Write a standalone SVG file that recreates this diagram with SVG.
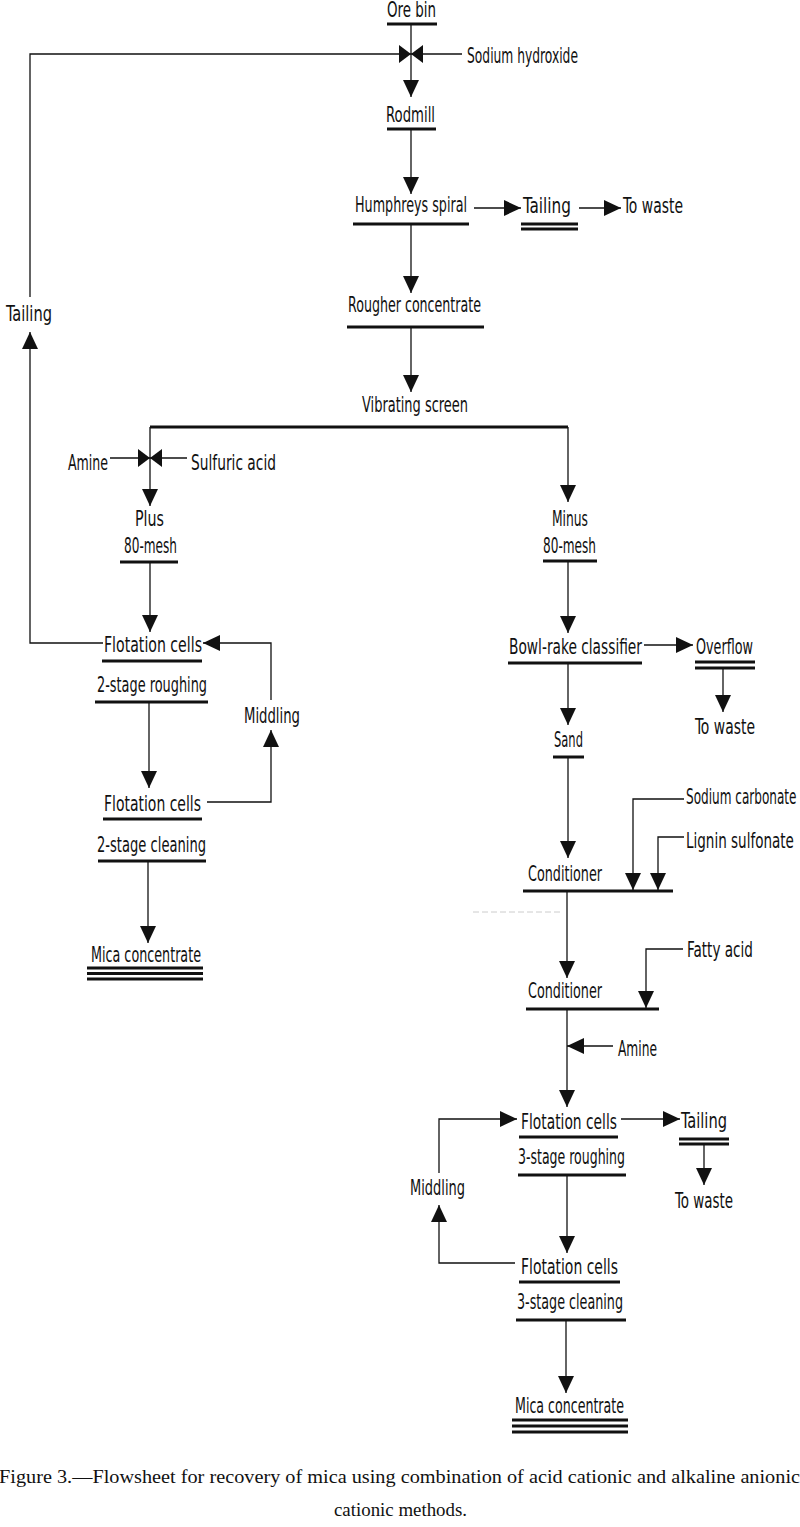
<svg xmlns="http://www.w3.org/2000/svg" width="800" height="1527" viewBox="0 0 800 1527">
<defs>
<style>
.t{font-family:"Liberation Sans Narrow","DejaVu Sans Condensed","Liberation Sans",sans-serif;font-size:21px;fill:#111}
.cap{font-family:"Liberation Serif","DejaVu Serif",serif;font-size:19px;fill:#111}
.u{stroke:#111;stroke-width:3;fill:none}
.c{stroke:#111;stroke-width:1.3;fill:none}
.ca{stroke:#111;stroke-width:1.3;fill:none;marker-end:url(#arr)}
.cb{stroke:#111;stroke-width:1.3;fill:none;marker-end:url(#bow)}
</style>
<marker id="arr" viewBox="0 0 17 16" refX="17" refY="8" markerWidth="17" markerHeight="16" markerUnits="userSpaceOnUse" orient="auto">
<path d="M0,0 L17,8 L0,16 Z" fill="#111"/>
</marker>
<marker id="bow" viewBox="0 0 12 18" refX="12" refY="9" markerWidth="12" markerHeight="18" markerUnits="userSpaceOnUse" orient="auto">
<path d="M0,0 L12,9 L0,18 Z" fill="#111"/>
</marker>
</defs>
<rect width="800" height="1527" fill="#fff"/>

<g id="connectors">
<path class="ca" d="M411,24 L411,97"/>
<path class="cb" d="M30,297 L30,54 L411,54"/>
<path class="cb" d="M462,54 L411,54"/>
<path class="ca" d="M411,129 L411,194"/>
<path class="ca" d="M474,208 L521,208"/>
<path class="ca" d="M579,208 L621,208"/>
<path class="ca" d="M411,224 L411,293"/>
<path class="ca" d="M411,327 L411,392"/>
<path class="u" d="M150,427 L568,427"/>
<path class="ca" d="M150,427 L150,506"/>
<path class="ca" d="M568,427 L568,502"/>
<path class="cb" d="M110,458 L150,458"/>
<path class="cb" d="M187,458 L150,458"/>
<path class="ca" d="M150,562 L150,632"/>
<path class="ca" d="M103,643 L30,643 L30,332"/>
<path class="ca" d="M207,802 L271,802 L271,730"/>
<path class="ca" d="M271,700 L271,643 L203,643"/>
<path class="ca" d="M149,702 L149,788"/>
<path class="ca" d="M148,861 L148,943"/>
<path class="ca" d="M568,561 L568,633"/>
<path class="ca" d="M644,645 L693,645"/>
<path class="ca" d="M723,668 L723,712"/>
<path class="ca" d="M568,663 L568,725"/>
<path class="ca" d="M568,757 L568,858"/>
<path class="ca" d="M684,799 L633,799 L633,890"/>
<path class="ca" d="M684,837 L658,837 L658,890"/>
<path class="ca" d="M567,891 L567,978"/>
<path class="ca" d="M683,949 L646,949 L646,1008"/>
<path class="ca" d="M567,1009 L567,1107"/>
<path class="ca" d="M613,1046 L567,1046"/>
<path class="ca" d="M621,1119 L680,1119"/>
<path class="ca" d="M704,1144 L704,1185"/>
<path class="ca" d="M567,1175 L567,1253"/>
<path class="ca" d="M515,1263 L439,1263 L439,1205"/>
<path class="ca" d="M439,1173 L439,1119 L517,1119"/>
<path class="ca" d="M566,1320 L566,1393"/>
<path d="M473,912 L562,912" stroke="#ccc" stroke-width="1" stroke-dasharray="6,3" fill="none"/>
</g>

<g id="ore-bin"><text class="t" x="387" y="17" textLength="49" lengthAdjust="spacingAndGlyphs">Ore bin</text><path class="u" d="M387,24 L437,24"/></g>
<g id="sodium-hydroxide"><text class="t" x="467" y="63" textLength="111" lengthAdjust="spacingAndGlyphs">Sodium hydroxide</text></g>
<g id="rodmill"><text class="t" x="386" y="122" textLength="49" lengthAdjust="spacingAndGlyphs">Rodmill</text><path class="u" d="M387,129 L436,129"/></g>
<g id="humphreys-spiral"><text class="t" x="355" y="212" textLength="112" lengthAdjust="spacingAndGlyphs">Humphreys spiral</text><path class="u" d="M353,224 L469,224"/></g>
<g id="tailing-1"><text class="t" x="523" y="213" textLength="48" lengthAdjust="spacingAndGlyphs">Tailing</text><path class="u" d="M521,224 L578,224 M521,229 L578,229" stroke-width="2"/></g>
<g id="to-waste-1"><text class="t" x="623" y="213" textLength="60" lengthAdjust="spacingAndGlyphs">To waste</text></g>
<g id="rougher-concentrate"><text class="t" x="348" y="312" textLength="133" lengthAdjust="spacingAndGlyphs">Rougher concentrate</text><path class="u" d="M347,327 L484,327"/></g>
<g id="vibrating-screen"><text class="t" x="362" y="412" textLength="106" lengthAdjust="spacingAndGlyphs">Vibrating screen</text></g>
<g id="tailing-left"><text class="t" x="6" y="321" textLength="46" lengthAdjust="spacingAndGlyphs">Tailing</text></g>
<g id="amine-1"><text class="t" x="68" y="470" textLength="40" lengthAdjust="spacingAndGlyphs">Amine</text></g>
<g id="sulfuric-acid"><text class="t" x="191" y="470" textLength="85" lengthAdjust="spacingAndGlyphs">Sulfuric acid</text></g>
<g id="plus-80-mesh"><text class="t" x="135" y="526" textLength="29" lengthAdjust="spacingAndGlyphs">Plus</text><text class="t" x="124" y="553" textLength="53" lengthAdjust="spacingAndGlyphs">80-mesh</text><path class="u" d="M120,562 L178,562"/></g>
<g id="minus-80-mesh"><text class="t" x="552" y="526" textLength="36" lengthAdjust="spacingAndGlyphs">Minus</text><text class="t" x="543" y="553" textLength="53" lengthAdjust="spacingAndGlyphs">80-mesh</text><path class="u" d="M543,561 L597,561"/></g>
<g id="flotation-roughing-2"><text class="t" x="104" y="652" textLength="98" lengthAdjust="spacingAndGlyphs">Flotation cells</text><path class="u" d="M102,661 L202,661"/><text class="t" x="97" y="692" textLength="110" lengthAdjust="spacingAndGlyphs">2-stage roughing</text><path class="u" d="M95,702 L208,702"/></g>
<g id="middling-1"><text class="t" x="244" y="723" textLength="56" lengthAdjust="spacingAndGlyphs">Middling</text></g>
<g id="flotation-cleaning-2"><text class="t" x="104" y="811" textLength="97" lengthAdjust="spacingAndGlyphs">Flotation cells</text><path class="u" d="M103,819 L202,819"/><text class="t" x="97" y="852" textLength="109" lengthAdjust="spacingAndGlyphs">2-stage cleaning</text><path class="u" d="M98,861 L206,861"/></g>
<g id="mica-concentrate-1"><text class="t" x="91" y="962" textLength="110" lengthAdjust="spacingAndGlyphs">Mica concentrate</text><path class="u" d="M87,968 L203,968 M87,973.5 L203,973.5 M87,979 L203,979" stroke-width="2.2"/></g>
<g id="bowl-rake-classifier"><text class="t" x="509" y="654" textLength="133" lengthAdjust="spacingAndGlyphs">Bowl-rake classifier</text><path class="u" d="M508,663 L642,663"/></g>
<g id="overflow"><text class="t" x="696" y="654" textLength="57" lengthAdjust="spacingAndGlyphs">Overflow</text><path class="u" d="M695,662 L755,662 M695,668 L755,668" stroke-width="2.2"/></g>
<g id="to-waste-2"><text class="t" x="695" y="734" textLength="60" lengthAdjust="spacingAndGlyphs">To waste</text></g>
<g id="sand"><text class="t" x="554" y="747" textLength="29" lengthAdjust="spacingAndGlyphs">Sand</text><path class="u" d="M553,757 L584,757"/></g>
<g id="conditioner-1"><text class="t" x="528" y="881" textLength="74" lengthAdjust="spacingAndGlyphs">Conditioner</text><path class="u" d="M523,891 L673,891"/></g>
<g id="sodium-carbonate"><text class="t" transform="translate(686,804) scale(0.65,1)" x="0" y="0" textLength="170" lengthAdjust="spacingAndGlyphs">Sodium carbonate</text></g>
<g id="lignin-sulfonate"><text class="t" transform="translate(686,848) scale(0.65,1)" x="0" y="0" textLength="166" lengthAdjust="spacingAndGlyphs">Lignin sulfonate</text></g>
<g id="fatty-acid"><text class="t" x="687" y="957" textLength="66" lengthAdjust="spacingAndGlyphs">Fatty acid</text></g>
<g id="conditioner-2"><text class="t" x="528" y="998" textLength="74" lengthAdjust="spacingAndGlyphs">Conditioner</text><path class="u" d="M526,1009 L659,1009"/></g>
<g id="amine-2"><text class="t" x="618" y="1056" textLength="39" lengthAdjust="spacingAndGlyphs">Amine</text></g>
<g id="flotation-roughing-3"><text class="t" x="521" y="1129" textLength="96" lengthAdjust="spacingAndGlyphs">Flotation cells</text><path class="u" d="M519,1137 L618,1137"/><text class="t" x="518" y="1164" textLength="107" lengthAdjust="spacingAndGlyphs">3-stage roughing</text><path class="u" d="M518,1175 L626,1175"/></g>
<g id="tailing-2"><text class="t" x="681" y="1128" textLength="46" lengthAdjust="spacingAndGlyphs">Tailing</text><path class="u" d="M679,1139 L729,1139 M679,1144 L729,1144" stroke-width="2"/></g>
<g id="to-waste-3"><text class="t" x="675" y="1208" textLength="58" lengthAdjust="spacingAndGlyphs">To waste</text></g>
<g id="middling-2"><text class="t" x="410" y="1195" textLength="55" lengthAdjust="spacingAndGlyphs">Middling</text></g>
<g id="flotation-cleaning-3"><text class="t" x="521" y="1274" textLength="97" lengthAdjust="spacingAndGlyphs">Flotation cells</text><path class="u" d="M519,1282 L620,1282"/><text class="t" x="517" y="1309" textLength="106" lengthAdjust="spacingAndGlyphs">3-stage cleaning</text><path class="u" d="M516,1320 L626,1320"/></g>
<g id="mica-concentrate-2"><text class="t" x="515" y="1413" textLength="109" lengthAdjust="spacingAndGlyphs">Mica concentrate</text><path class="u" d="M512,1420 L628,1420 M512,1426 L628,1426 M512,1432 L628,1432" stroke-width="2.2"/></g>

<g id="caption">
<text class="cap" x="-1" y="1483" textLength="801" lengthAdjust="spacingAndGlyphs">Figure 3.—Flowsheet for recovery of mica using combination of acid cationic and alkaline anionic</text>
<text class="cap" x="334" y="1516" textLength="133" lengthAdjust="spacingAndGlyphs">cationic methods.</text>
</g>
</svg>
